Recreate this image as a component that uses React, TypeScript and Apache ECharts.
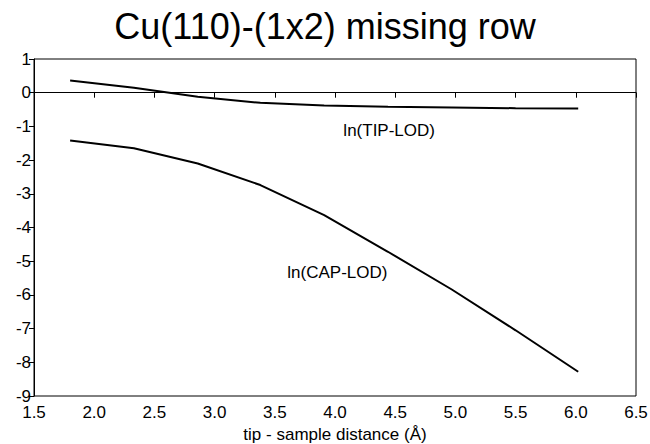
import React, { useEffect, useRef } from "react";
import * as echarts from "echarts";

const distances = [1.8, 2.33, 2.86, 3.38, 3.91, 4.44, 4.97, 5.5, 6.02];
const tipLod = [0.36, 0.15, -0.12, -0.3, -0.38, -0.42, -0.44, -0.46, -0.47];
const capLod = [-1.42, -1.65, -2.1, -2.74, -3.63, -4.72, -5.84, -7.05, -8.28];
const titleText = "Cu(110)-(1x2) missing row";
const xName = "tip - sample distance (Å)";
const tipLabel = { text: "ln(TIP-LOD)", x: 4.45, y: -1.11 };
const capLabel = { text: "ln(CAP-LOD)", x: 4.02, y: -5.35 };

const FONT = "'Liberation Sans', Arial, Helvetica, sans-serif";

export default function App() {
  const ref = useRef<HTMLDivElement>(null);
  useEffect(() => {
    if (!ref.current) return;
    const chart = echarts.init(ref.current, undefined, { renderer: "svg" });
    const labelPoint = (l: { text: string; x: number; y: number }) => ({
      coord: [l.x, l.y],
      symbol: "circle",
      symbolSize: 0,
      label: {
        show: true,
        position: "inside",
        formatter: l.text,
        color: "#000",
        fontSize: 17,
        fontFamily: FONT,
      },
    });
    chart.setOption({
      animation: false,
      backgroundColor: "#fff",
      title: {
        text: titleText,
        left: "center",
        top: 3,
        textStyle: { fontSize: 36, fontWeight: "normal", color: "#000", fontFamily: FONT },
      },
      grid: {
        left: 34,
        right: 14,
        top: 59,
        bottom: 48,
        outerBoundsMode: "none",
        containLabel: false,
        show: true,
        borderColor: "#000",
        borderWidth: 1,
        backgroundColor: "transparent",
      },
      xAxis: {
        type: "value",
        min: 1.5,
        max: 6.5,
        interval: 0.5,
        name: xName,
        nameLocation: "middle",
        nameGap: 30,
        nameTextStyle: { fontSize: 17, color: "#000", fontFamily: FONT },
        axisLine: { show: true, lineStyle: { color: "#000", width: 1 } },
        axisTick: { show: true, length: 5, lineStyle: { color: "#000" } },
        axisLabel: {
          color: "#000",
          fontSize: 17,
          fontFamily: FONT,
          margin: 8,
          formatter: (v: number) => v.toFixed(1),
        },
        splitLine: { show: false },
      },
      yAxis: {
        type: "value",
        min: -9,
        max: 1,
        interval: 1,
        axisLine: { show: true, onZero: false, lineStyle: { color: "#000", width: 1 } },
        axisTick: { show: true, length: 5, lineStyle: { color: "#000" } },
        axisLabel: { color: "#000", fontSize: 17, fontFamily: FONT, margin: 3 },
        splitLine: { show: false },
      },
      series: [
        {
          name: "ln(TIP-LOD)",
          type: "line",
          data: distances.map((d, i) => [d, tipLod[i]]),
          showSymbol: false,
          symbol: "none",
          lineStyle: { color: "#000", width: 2 },
          markLine: {
            silent: true,
            symbol: "none",
            label: { show: false },
            lineStyle: { color: "#000", type: [1, 2], width: 1 },
            data: [{ yAxis: 0 }],
          },
          markPoint: { data: [labelPoint(tipLabel)] },
        },
        {
          name: "ln(CAP-LOD)",
          type: "line",
          data: distances.map((d, i) => [d, capLod[i]]),
          showSymbol: false,
          symbol: "none",
          lineStyle: { color: "#000", width: 2 },
          markPoint: { data: [labelPoint(capLabel)] },
        },
      ],
    });
    return () => chart.dispose();
  }, []);
  return <div ref={ref} style={{ width: 650, height: 444, position: "absolute", left: 0, top: 0 }} />;
}
